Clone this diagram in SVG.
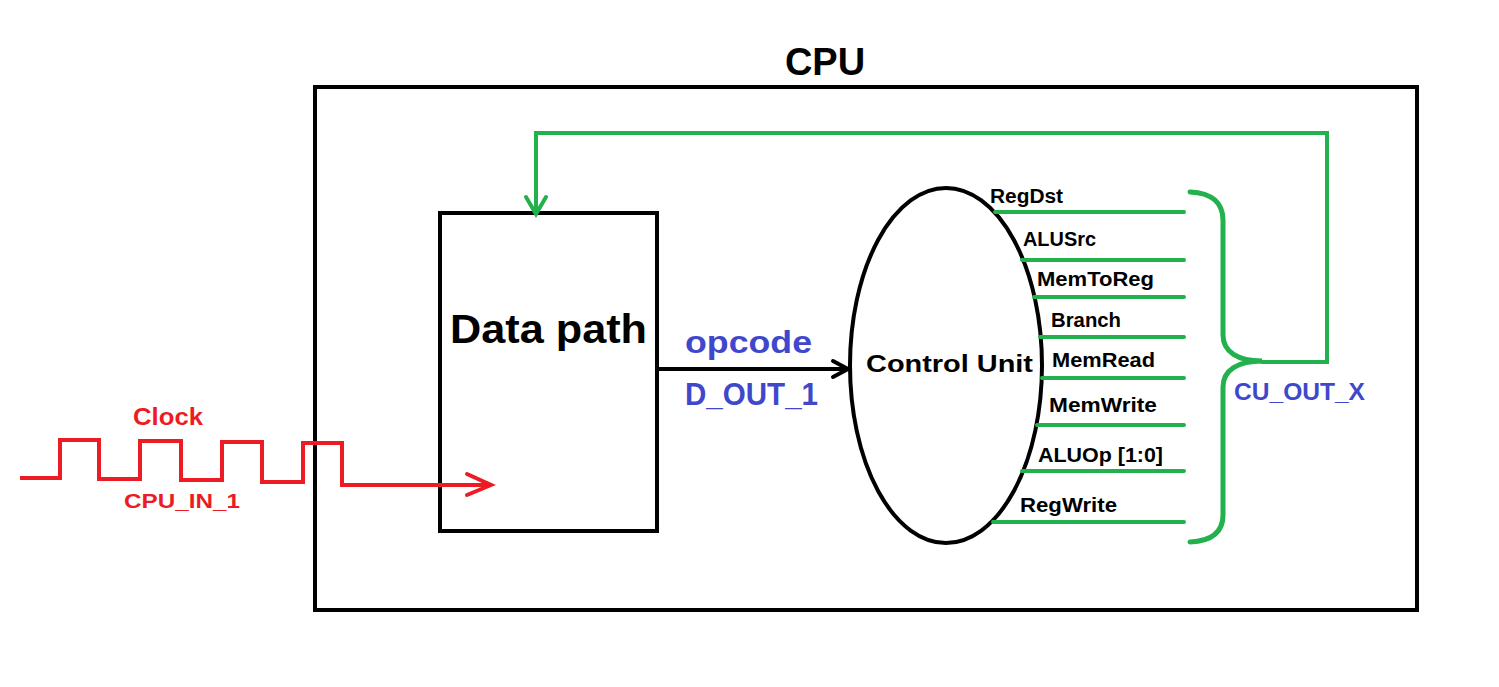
<svg xmlns="http://www.w3.org/2000/svg" width="1499" height="687" viewBox="0 0 1499 687">
<style>
  .blk{fill:none;stroke:#000;stroke-width:4}
  .grn{fill:none;stroke:#22b14c;stroke-width:4;stroke-linecap:round;stroke-linejoin:miter}
  .red{fill:none;stroke:#ed1c24;stroke-width:4;stroke-linejoin:miter}
  .t{font-family:"Liberation Sans",Arial,sans-serif;font-weight:bold}
  .sig{font-size:20px;fill:#000}
  .blue{fill:#3f48cc}
  .redt{fill:#ed1c24}
</style>
<rect width="1499" height="687" fill="#fff"/>
<g id="cpu">
  <rect class="blk" x="315" y="87" width="1102" height="523"/>
  <text class="t" x="825" y="75" font-size="38" text-anchor="middle">CPU</text>
</g>
<g id="datapath">
  <rect class="blk" x="440" y="213" width="217" height="318"/>
  <text class="t" x="450" y="343" font-size="40" textLength="197" lengthAdjust="spacingAndGlyphs">Data path</text>
</g>
<g id="controlunit">
  <ellipse class="blk" cx="946" cy="365.5" rx="96" ry="177.5"/>
  <text class="t" x="866" y="372" font-size="23" textLength="167" lengthAdjust="spacingAndGlyphs">Control Unit</text>
</g>
<g id="clock">
  <text class="t redt" x="133" y="425" font-size="24" textLength="70" lengthAdjust="spacingAndGlyphs">Clock</text>
  <text class="t redt" x="124" y="508" font-size="21" textLength="116" lengthAdjust="spacingAndGlyphs">CPU_IN_1</text>
</g>
<g id="connectors">
  <!-- clock waveform to data path -->
  <path class="red" d="M20,478 H60 V440 H99 V479 H140 V441 H181 V480 H222 V442 H262 V482 H303 V443 H342 V485 H490"/>
  <path class="red" d="M467,474 L491,485 L467,495" stroke-linecap="round"/>
  <!-- opcode arrow -->
  <path class="blk" d="M657,369 H847"/>
  <path class="blk" d="M833,361 L848,369 L833,377" stroke-linecap="round"/>
  <text class="t blue" x="685" y="353" font-size="31" textLength="127" lengthAdjust="spacingAndGlyphs">opcode</text>
  <text class="t blue" x="685" y="405" font-size="31" textLength="133" lengthAdjust="spacingAndGlyphs">D_OUT_1</text>
  <!-- control signals -->
  <path class="grn" d="M995,212 H1184 M1022,260 H1184 M1034,297 H1184 M1040,337 H1184 M1042,378 H1184 M1037,425 H1184 M1022,471 H1184 M993,522 H1184"/>
  <text class="t sig" x="990" y="203" textLength="73" lengthAdjust="spacingAndGlyphs">RegDst</text>
  <text class="t sig" x="1023" y="246" textLength="73" lengthAdjust="spacingAndGlyphs">ALUSrc</text>
  <text class="t sig" x="1037" y="286" textLength="117" lengthAdjust="spacingAndGlyphs">MemToReg</text>
  <text class="t sig" x="1051" y="327" textLength="70" lengthAdjust="spacingAndGlyphs">Branch</text>
  <text class="t sig" x="1052" y="367" textLength="103" lengthAdjust="spacingAndGlyphs">MemRead</text>
  <text class="t sig" x="1049" y="412" textLength="108" lengthAdjust="spacingAndGlyphs">MemWrite</text>
  <text class="t sig" x="1038" y="462" textLength="125" lengthAdjust="spacingAndGlyphs">ALUOp [1:0]</text>
  <text class="t sig" x="1020" y="512" textLength="97" lengthAdjust="spacingAndGlyphs">RegWrite</text>
  <!-- brace -->
  <path d="M1190,192 C1212,193 1223,203 1223,220 V335 C1223,352 1238,361 1262,361 C1238,361 1223,370 1223,387 V515 C1223,532 1212,541 1190,542" fill="none" stroke="#22b14c" stroke-width="5" stroke-linecap="round"/>
  <text class="t blue" x="1234" y="400" font-size="24" textLength="131" lengthAdjust="spacingAndGlyphs">CU_OUT_X</text>
  <!-- feedback loop -->
  <path class="grn" d="M1262,362 H1327 V133 H536 V212" stroke-linecap="butt"/>
  <path class="grn" d="M526,197 L536,214 L546,197"/>
</g>
</svg>
